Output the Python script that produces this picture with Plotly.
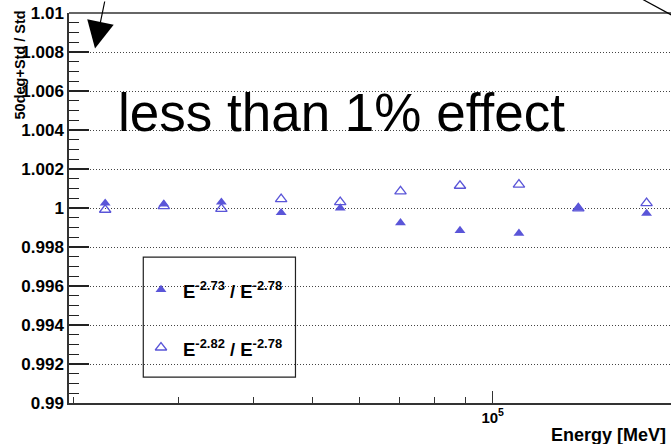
import plotly.graph_objects as go

# Energy bin centres [MeV] and flux-weighted ratios for two spectral indices
energy = [22600, 28300, 35300, 44400, 55700, 70200, 88200, 110600, 138900, 180500]
ratio_273 = [1.00025, 1.00020, 1.00030, 0.99976, 1.00000, 0.99924, 0.99884, 0.99870, 1.00000, 0.99972]
ratio_282 = [0.99991, 1.00010, 0.99996, 1.00046, 1.00030, 1.00085, 1.00114, 1.00120, 0.99998, 1.00025]

y_ticks = [0.99, 0.992, 0.994, 0.996, 0.998, 1.0, 1.002, 1.004, 1.006, 1.008, 1.01]
y_tick_labels = ["0.99", "0.992", "0.994", "0.996", "0.998", "1", "1.002", "1.004", "1.006", "1.008", "1.01"]
x_ticks = [1e5]
x_tick_labels = ["10<sup>5</sup>"]
x_minor_ticks = [2e4, 3e4, 4e4, 5e4, 6e4, 7e4, 8e4, 9e4, 2e5]

label_273 = "E<sup>-2.73</sup> / E<sup>-2.78</sup>"
label_282 = "E<sup>-2.82</sup> / E<sup>-2.78</sup>"

MARK = "#5a55d8"
AXIS = "#333333"
FONT = "Liberation Sans"

fig = go.Figure()

fig.add_trace(go.Scatter(
    x=energy, y=ratio_282, mode="markers", name=label_282, showlegend=False,
    marker=dict(symbol="triangle-up-open", size=10, color=MARK, line=dict(width=1.3, color=MARK)),
))
fig.add_trace(go.Scatter(
    x=energy, y=ratio_273, mode="markers", name=label_273, showlegend=False,
    marker=dict(symbol="triangle-up", size=9.5, color=MARK, line=dict(width=0)),
))

# legend glyphs live on an overlay axis pair spanning the plot area in [0, 1]
fig.add_trace(go.Scatter(
    x=[0.1528], y=[0.291], xaxis="x2", yaxis="y2", mode="markers", showlegend=False,
    marker=dict(symbol="triangle-up", size=9.5, color=MARK, line=dict(width=0)),
    hoverinfo="skip",
))
fig.add_trace(go.Scatter(
    x=[0.1528], y=[0.1423], xaxis="x2", yaxis="y2", mode="markers", showlegend=False,
    marker=dict(symbol="triangle-up-open", size=10, color=MARK, line=dict(width=1.3, color=MARK)),
    hoverinfo="skip",
))

fig.update_layout(
    width=671, height=444,
    margin=dict(l=69, r=0, t=13, b=41),
    paper_bgcolor="white", plot_bgcolor="white",
    font=dict(family=FONT, color="black"),
    showlegend=False,
    xaxis=dict(
        type="log", range=[4.2938, 5.2972],
        showline=True, linecolor=AXIS, linewidth=1.5,
        ticks="inside", ticklen=12, tickwidth=1.2, tickcolor=AXIS,
        tickmode="array", tickvals=x_ticks, ticktext=x_tick_labels,
        tickfont=dict(family=FONT, size=15, weight="bold", color="black"),
        minor=dict(tickmode="array", tickvals=x_minor_ticks, ticks="inside",
                   ticklen=6, tickwidth=1.2, tickcolor=AXIS, showgrid=False),
        showgrid=False, zeroline=False,
    ),
    yaxis=dict(
        range=[0.99, 1.01],
        showline=True, linecolor=AXIS, linewidth=1.5,
        ticks="inside", ticklen=20, tickwidth=1.5, tickcolor="#222222",
        tickmode="array", tickvals=y_ticks, ticktext=y_tick_labels,
        tickfont=dict(family=FONT, size=17, weight="bold", color="black"),
        minor=dict(dtick=0.0005, ticks="inside", ticklen=10, tickwidth=1.2,
                   tickcolor="#222222", showgrid=False),
        showgrid=True, gridcolor="#444444", gridwidth=1, griddash="1px,2px",
        zeroline=False,
    ),
    xaxis2=dict(domain=[0, 1], range=[0, 1], overlaying="x", anchor="y2", visible=False),
    yaxis2=dict(domain=[0, 1], range=[0, 1], overlaying="y", anchor="x2", visible=False),
)

# top frame edge
fig.add_shape(type="line", xref="paper", yref="paper", x0=0, x1=1, y0=1, y1=1,
              line=dict(color=AXIS, width=1.5))

# legend box
fig.add_shape(type="rect", xref="paper", yref="paper",
              x0=0.1234, x1=0.3762, y0=0.0662, y1=0.3738,
              line=dict(color="#222222", width=1.2), fillcolor="white", layer="below")

fig.add_annotation(xref="paper", yref="paper", x=0.1855, y=0.291, xanchor="left", yanchor="middle",
                   text=label_273, showarrow=False,
                   font=dict(family=FONT, size=18.5, weight="bold", color="black"))
fig.add_annotation(xref="paper", yref="paper", x=0.1855, y=0.1423, xanchor="left", yanchor="middle",
                   text=label_282, showarrow=False,
                   font=dict(family=FONT, size=18.5, weight="bold", color="black"))

# axis titles
fig.add_annotation(xref="paper", yref="paper", x=-0.0814, y=0.868, xanchor="center", yanchor="middle",
                   text="50deg+Std / Std", textangle=-90, showarrow=False,
                   font=dict(family=FONT, size=14.5, weight="bold", color="black"))
fig.add_annotation(xref="paper", yref="paper", x=0.995, y=-0.081, xanchor="right", yanchor="middle",
                   text="Energy [MeV]", showarrow=False,
                   font=dict(family=FONT, size=18, weight="bold", color="black"))

# note and pointer arrows
fig.add_annotation(xref="paper", yref="paper", x=0.452, y=0.745, xanchor="center", yanchor="middle",
                   text="less than 1% effect", showarrow=False,
                   font=dict(family=FONT, size=53, color="black"))
fig.add_annotation(xref="paper", yref="paper", x=0.0432, y=0.909, text="",
                   showarrow=True, arrowhead=2, arrowsize=4.5, arrowwidth=1.2, arrowcolor="black",
                   ax=10, ay=-60)
# second pointer runs off the top-right corner
fig.add_shape(type="line", xref="paper", yref="paper", x0=0.932, y0=1.0526, x1=1.048, y1=0.955,
              line=dict(color="black", width=1.2))

fig.write_html("out.html")
